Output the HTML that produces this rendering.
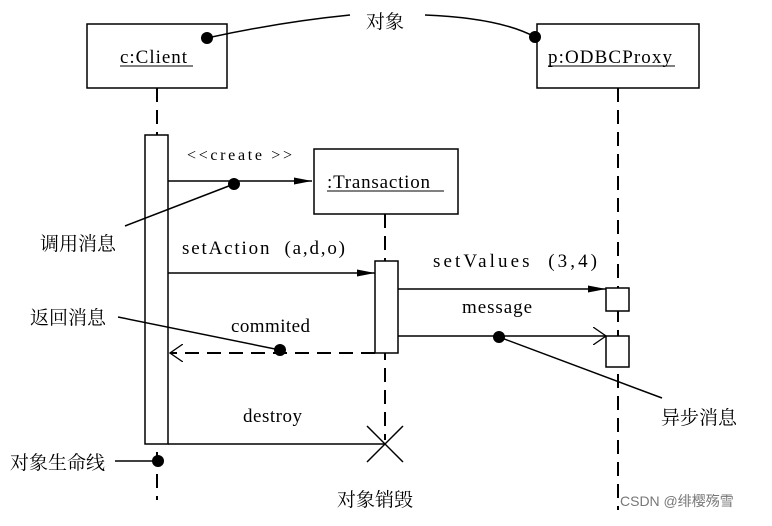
<!DOCTYPE html>
<html><head><meta charset="utf-8"><style>
body{margin:0;background:#fff}
svg text{font-family:"Liberation Serif","Noto Serif CJK SC",serif;fill:#000}
</style></head><body>
<svg width="772" height="521" viewBox="0 0 772 521" xmlns="http://www.w3.org/2000/svg">
<defs>
<marker id="f" markerWidth="18" markerHeight="10" refX="18" refY="5" orient="auto" markerUnits="userSpaceOnUse"><path d="M0,1.5 L18,5 L0,8.5z" fill="#000"/></marker>
<marker id="o" markerWidth="14" markerHeight="18" refX="13" refY="9" orient="auto" markerUnits="userSpaceOnUse"><path d="M0,0 L13,9 L0,18" fill="none" stroke="#000" stroke-width="1.3"/></marker>
</defs>
<g stroke="#000" stroke-width="1.5" fill="none">
<rect x="87" y="24" width="140" height="64" fill="#fff"/>
<rect x="537" y="24" width="162" height="64" fill="#fff"/>
<rect x="314" y="149" width="144" height="65" fill="#fff"/>
<g stroke-dasharray="14,8" stroke-width="2">
<line x1="157" y1="88" x2="157" y2="135"/>
<line x1="157" y1="452" x2="157" y2="500"/>
<line x1="618" y1="88" x2="618" y2="510"/>
<line x1="385" y1="214" x2="385" y2="440"/>
<line x1="375" y1="353" x2="170" y2="353" marker-end="url(#o)"/>
</g>
<rect x="145" y="135" width="23" height="309" fill="#fff"/>
<rect x="375" y="261" width="23" height="92" fill="#fff"/>
<rect x="606" y="288" width="23" height="23" fill="#fff"/>
<rect x="606" y="336" width="23" height="31" fill="#fff"/>
<line x1="168" y1="181" x2="312" y2="181" marker-end="url(#f)"/>
<line x1="168" y1="273" x2="375" y2="273" marker-end="url(#f)"/>
<line x1="398" y1="289" x2="606" y2="289" marker-end="url(#f)"/>
<line x1="398" y1="336" x2="606" y2="336" marker-end="url(#o)"/>
<line x1="168" y1="444" x2="385" y2="444"/>
<line x1="367" y1="426" x2="403" y2="462"/>
<line x1="403" y1="426" x2="367" y2="462"/>
<line x1="234" y1="184" x2="125" y2="226"/>
<line x1="280" y1="350" x2="118" y2="317"/>
<line x1="499" y1="337" x2="662" y2="398"/>
<line x1="115" y1="461" x2="157" y2="461"/>
<path d="M207,38 Q280,22 350,15"/>
<path d="M425,15 Q500,18 535,37"/>
<line x1="120" y1="66" x2="193" y2="66" stroke-width="1"/>
<line x1="548" y1="66" x2="675" y2="66" stroke-width="1"/>
<line x1="327" y1="191" x2="444" y2="191" stroke-width="1"/>
</g>
<g fill="#000">
<circle cx="207" cy="38" r="6"/><circle cx="535" cy="37" r="6"/>
<circle cx="234" cy="184" r="6"/><circle cx="280" cy="350" r="6"/>
<circle cx="499" cy="337" r="6"/><circle cx="158" cy="461" r="6"/>
</g>
<g font-size="19">
<text x="120" y="63" textLength="67" lengthAdjust="spacing">c:Client</text>
<text x="548" y="63" textLength="124" lengthAdjust="spacing">p:ODBCProxy</text>
<text x="327" y="188" textLength="103" lengthAdjust="spacing">:Transaction</text>
<text x="187" y="160" font-size="16" textLength="105" lengthAdjust="spacing">&lt;&lt;create &gt;&gt;</text>
<text x="182" y="254" textLength="163" lengthAdjust="spacing">setAction&#160;&#160;(a,d,o)</text>
<text x="433" y="267" textLength="164" lengthAdjust="spacing">setValues&#160;&#160;(3,4)</text>
<text x="462" y="313" textLength="70" lengthAdjust="spacing">message</text>
<text x="231" y="332" textLength="79" lengthAdjust="spacing">commited</text>
<text x="243" y="422" textLength="59" lengthAdjust="spacing">destroy</text>
</g>
<g font-size="19">
<text x="366" y="28">对象</text>
<text x="40" y="250">调用消息</text>
<text x="30" y="324">返回消息</text>
<text x="661" y="424">异步消息</text>
<text x="10" y="469">对象生命线</text>
<text x="337" y="506">对象销毁</text>
</g>
<text x="620" y="506" font-size="14" style="font-family:'Liberation Sans','Noto Sans CJK SC',sans-serif;fill:#777">CSDN @绯樱殇雪</text>
</svg>
</body></html>
